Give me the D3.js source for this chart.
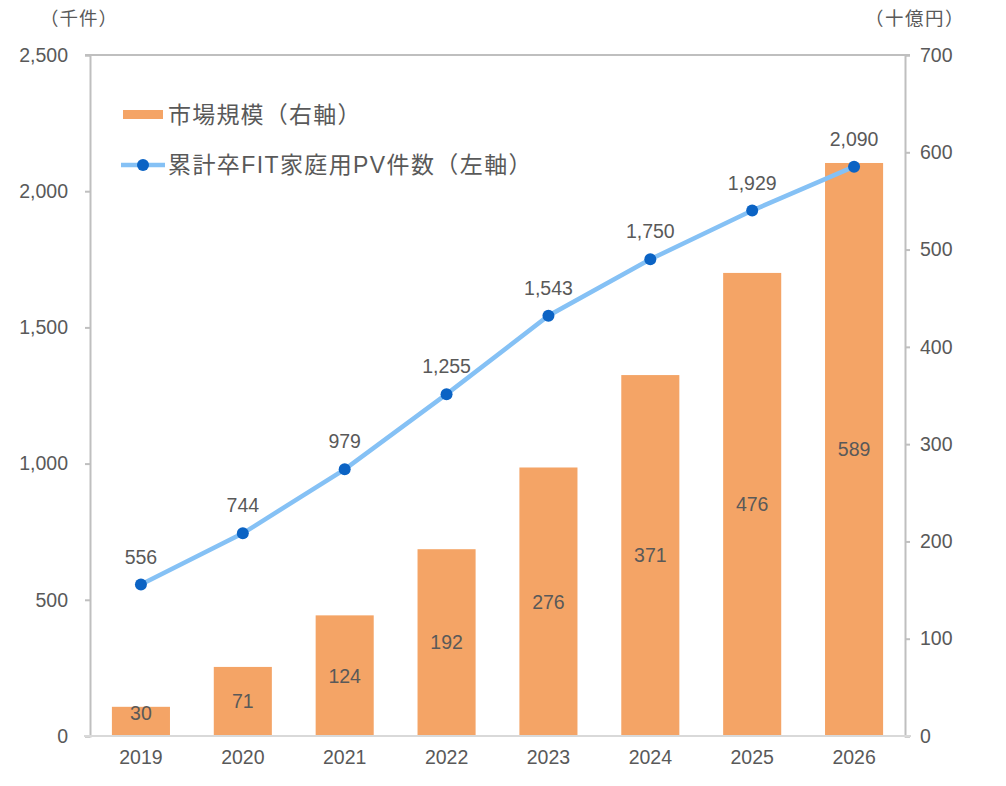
<!DOCTYPE html>
<html><head><meta charset="utf-8">
<script src="https://cdn.jsdelivr.net/npm/d3@7"></script>
<style>body{margin:0;background:#fff}svg text{font-family:"Liberation Sans","Noto Sans CJK JP",sans-serif;fill:#595959}</style>
</head><body><svg id="c" width="1006" height="786"></svg>
<script>
const years = ["2019","2020","2021","2022","2023","2024","2025","2026"];
const marketSize = [30,71,124,192,276,371,476,589];
const pvCount = [556,744,979,1255,1543,1750,1929,2090];
const leftTicks = [0,500,1000,1500,2000,2500];
const rightTicks = [0,100,200,300,400,500,600,700];
const legendLabels = ["市場規模（右軸）","累計卒FIT家庭用PV件数（左軸）"];
const unitLeft = "（千件）", unitRight = "（十億円）";

const svg = d3.select("#c");
const L=90,R=905,T=55,B=736;
const FS="19.5px";
const x = d3.scaleBand().domain(years).range([L,R]).paddingInner(0.43).paddingOuter(0.215);
const yL = d3.scaleLinear().domain([0,2500]).range([B,T]);
const yR = d3.scaleLinear().domain([0,700]).range([B,T]);
const fmt = d3.format(",");

svg.selectAll("rect.bar").data(marketSize).join("rect")
  .attr("x",(d,i)=>x(years[i])).attr("width",x.bandwidth())
  .attr("y",d=>yR(d)).attr("height",d=>B-yR(d)).attr("fill","#F4A466");

const gl = svg.append("g").attr("transform",`translate(${L},0)`)
  .call(d3.axisLeft(yL).tickValues(leftTicks).tickFormat(fmt).tickSize(5).tickPadding(17));
const gr = svg.append("g").attr("transform",`translate(${R},0)`)
  .call(d3.axisRight(yR).tickValues(rightTicks).tickFormat(fmt).tickSize(5).tickPadding(10));
[gl,gr].forEach(g=>{
  g.select(".domain").attr("stroke","#BFBFBF").attr("stroke-width",2);
  g.selectAll(".tick line").attr("stroke","#BFBFBF").attr("stroke-width",2);
  g.selectAll(".tick text").style("font-size",FS).attr("fill","#595959");
});
const gx = svg.append("g").attr("transform",`translate(0,${B})`)
  .call(d3.axisBottom(x).tickSize(0).tickPadding(14));
gx.select(".domain").remove();
gx.selectAll(".tick text").style("font-size",FS).attr("fill","#595959");
svg.selectAll("g").attr("font-family",null);
svg.append("line").attr("x1",L-6).attr("x2",R+6).attr("y1",B).attr("y2",B).attr("stroke","#D9D9D9").attr("stroke-width",2);
svg.append("line").attr("x1",L-5).attr("x2",R+5).attr("y1",T).attr("y2",T).attr("stroke","#BFBFBF").attr("stroke-width",2);

svg.selectAll("text.bl").data(marketSize).join("text")
  .attr("x",(d,i)=>x(years[i])+x.bandwidth()/2)
  .attr("y",d=>Math.min((yR(d)+B)/2, B-23)).attr("dy","0.35em")
  .attr("text-anchor","middle").style("font-size",FS).text(d=>d);

const cx = i=>x(years[i])+x.bandwidth()/2;
svg.append("path").datum(pvCount)
  .attr("d",d3.line().x((d,i)=>cx(i)).y(d=>yL(d)))
  .attr("fill","none").attr("stroke","#85C1F5").attr("stroke-width",4.5);
svg.selectAll("circle.pt").data(pvCount).join("circle")
  .attr("cx",(d,i)=>cx(i)).attr("cy",d=>yL(d)).attr("r",6).attr("fill","#0B63C4");
svg.selectAll("text.pl").data(pvCount).join("text")
  .attr("x",(d,i)=>cx(i)).attr("y",d=>yL(d)-21)
  .attr("text-anchor","middle").style("font-size",FS).text(d=>fmt(d));

svg.append("text").attr("x",40).attr("y",25).style("font-size","18.5px").style("letter-spacing","1px").text(unitLeft);
svg.append("text").attr("x",965).attr("y",25).attr("text-anchor","end").style("font-size","18.5px").style("letter-spacing","1.5px").text(unitRight);

svg.append("rect").attr("x",123).attr("y",110).attr("width",40).attr("height",9).attr("fill","#F4A466");
svg.append("text").attr("x",168).attr("y",115).attr("dy","0.35em").style("font-size","23px").style("letter-spacing","1.2px").text(legendLabels[0]);
svg.append("line").attr("x1",121).attr("x2",165).attr("y1",165).attr("y2",165).attr("stroke","#85C1F5").attr("stroke-width",4.5);
svg.append("circle").attr("cx",143).attr("cy",165).attr("r",6).attr("fill","#0B63C4");
svg.append("text").attr("x",168).attr("y",165).attr("dy","0.35em").style("font-size","23px").style("letter-spacing","1.4px").text(legendLabels[1]);
</script></body></html>
